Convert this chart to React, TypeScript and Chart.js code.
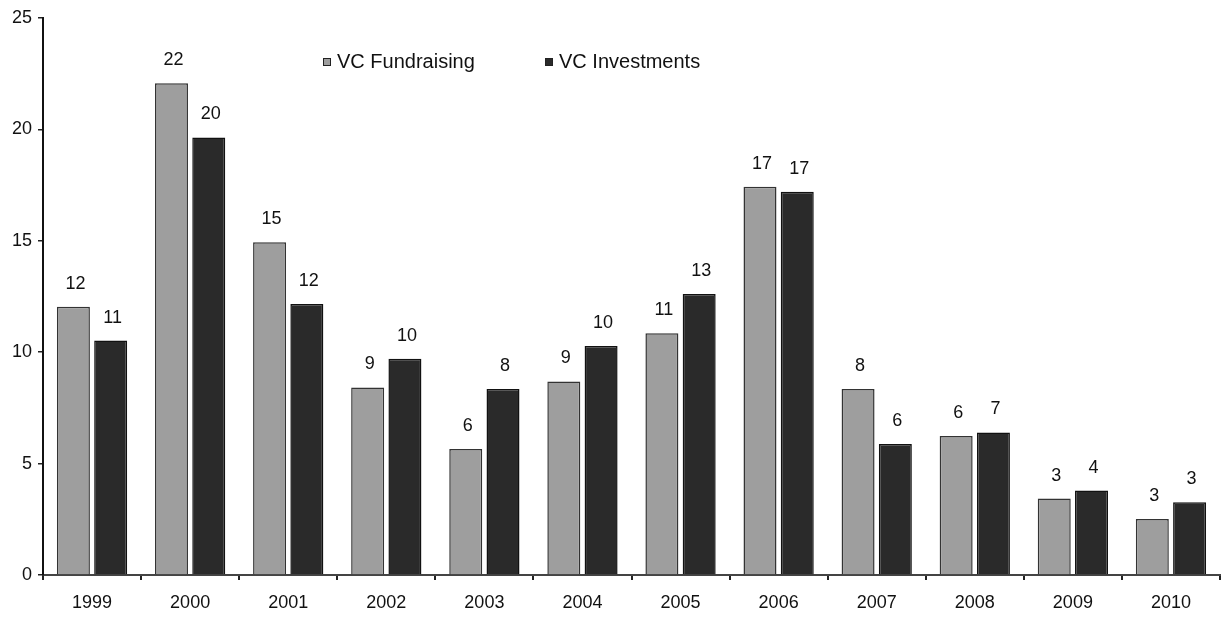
import React, { useEffect, useRef } from "react";
import { Chart, registerables } from "chart.js";

Chart.register(...registerables);

const categories = ["1999", "2000", "2001", "2002", "2003", "2004", "2005", "2006", "2007", "2008", "2009", "2010"];
const fundraising = [12.04, 22.07, 14.93, 8.42, 5.66, 8.69, 10.85, 17.43, 8.35, 6.24, 3.43, 2.51];
const investments = [10.52, 19.64, 12.16, 9.71, 8.35, 10.28, 12.61, 17.2, 5.88, 6.4, 3.79, 3.26];
const fundraisingLabels = ["12", "22", "15", "9", "6", "9", "11", "17", "8", "6", "3", "3"];
const investmentLabels = ["11", "20", "12", "10", "8", "10", "13", "17", "6", "7", "4", "3"];
const yTicks = [0, 5, 10, 15, 20, 25];
const seriesNames = ["VC Fundraising", "VC Investments"];

const FONT = "'Liberation Sans', Arial, sans-serif";
const FUND_COLOR = "#9e9e9e";
const INV_COLOR = "#2a2a2a";

const valueLabelPlugin = {
  id: "valueLabels",
  afterDatasetsDraw(chart: any) {
    const ctx = chart.ctx;
    const labelSets = [fundraisingLabels, investmentLabels];
    ctx.save();
    ctx.font = `18px ${FONT}`;
    ctx.fillStyle = "#111";
    ctx.textAlign = "center";
    ctx.textBaseline = "middle";
    chart.data.datasets.forEach((_ds: any, di: number) => {
      const meta = chart.getDatasetMeta(di);
      meta.data.forEach((bar: any, i: number) => {
        ctx.fillText(labelSets[di][i], bar.x + 2, bar.y - 23);
      });
    });
    ctx.restore();
  },
};

const legendPlugin = {
  id: "customLegend",
  afterDraw(chart: any) {
    const ctx = chart.ctx;
    const items = [
      { x: 323, color: FUND_COLOR, text: seriesNames[0] },
      { x: 545, color: INV_COLOR, text: seriesNames[1] },
    ];
    const cy = 62;
    ctx.save();
    ctx.font = `20px ${FONT}`;
    ctx.textBaseline = "middle";
    ctx.textAlign = "left";
    items.forEach((it) => {
      ctx.fillStyle = it.color;
      ctx.fillRect(it.x, cy - 4, 7, 7);
      ctx.strokeStyle = "#222";
      ctx.lineWidth = 1;
      ctx.strokeRect(it.x + 0.5, cy - 3.5, 7, 7);
      ctx.fillStyle = "#111";
      ctx.fillText(it.text, it.x + 14, cy);
    });
    ctx.restore();
  },
};

export default function App() {
  const canvasRef = useRef<HTMLCanvasElement | null>(null);

  useEffect(() => {
    if (!canvasRef.current) return;
    const chart = new Chart(canvasRef.current, {
      type: "bar",
      data: {
        labels: categories,
        datasets: [
          {
            label: seriesNames[0],
            data: fundraising,
            backgroundColor: FUND_COLOR,
            borderColor: "#333",
            borderWidth: 1.5,
            categoryPercentage: 0.76,
            barPercentage: 0.885,
          },
          {
            label: seriesNames[1],
            data: investments,
            backgroundColor: INV_COLOR,
            borderColor: "#111",
            borderWidth: 1.5,
            categoryPercentage: 0.76,
            barPercentage: 0.885,
          },
        ],
      },
      options: {
        animation: false,
        responsive: false,
        maintainAspectRatio: false,
        layout: { padding: { top: 18, right: 9, left: 0, bottom: 0 } },
        plugins: {
          legend: { display: false },
          tooltip: { enabled: false },
        },
        scales: {
          x: {
            grid: {
              display: true,
              drawOnChartArea: false,
              drawTicks: true,
              tickLength: 5,
              color: "#222",
              lineWidth: 2,
              offset: true,
            },
            border: { display: true, color: "#444", width: 2 },
            ticks: {
              color: "#111",
              font: { family: FONT, size: 18 },
              padding: 12,
            },
            afterFit(scale: any) {
              scale.height = 42;
            },
          },
          y: {
            min: 0,
            max: 25,
            afterBuildTicks(scale: any) {
              scale.ticks = yTicks.map((v) => ({ value: v }));
            },
            grid: {
              display: true,
              drawOnChartArea: false,
              drawTicks: true,
              tickLength: 5,
              color: "#222",
              lineWidth: 1.5,
            },
            border: { display: true, color: "#111", width: 2 },
            ticks: {
              color: "#111",
              font: { family: FONT, size: 18 },
              padding: 6,
            },
            afterFit(scale: any) {
              scale.width = 43;
            },
          },
        },
      },
      plugins: [valueLabelPlugin, legendPlugin],
    });
    return () => chart.destroy();
  }, []);

  return (
    <div style={{ position: "absolute", left: 0, top: 0, width: 1229, height: 617, background: "#fff" }}>
      <canvas ref={canvasRef} width={1229} height={617} style={{ width: 1229, height: 617 }} />
    </div>
  );
}
